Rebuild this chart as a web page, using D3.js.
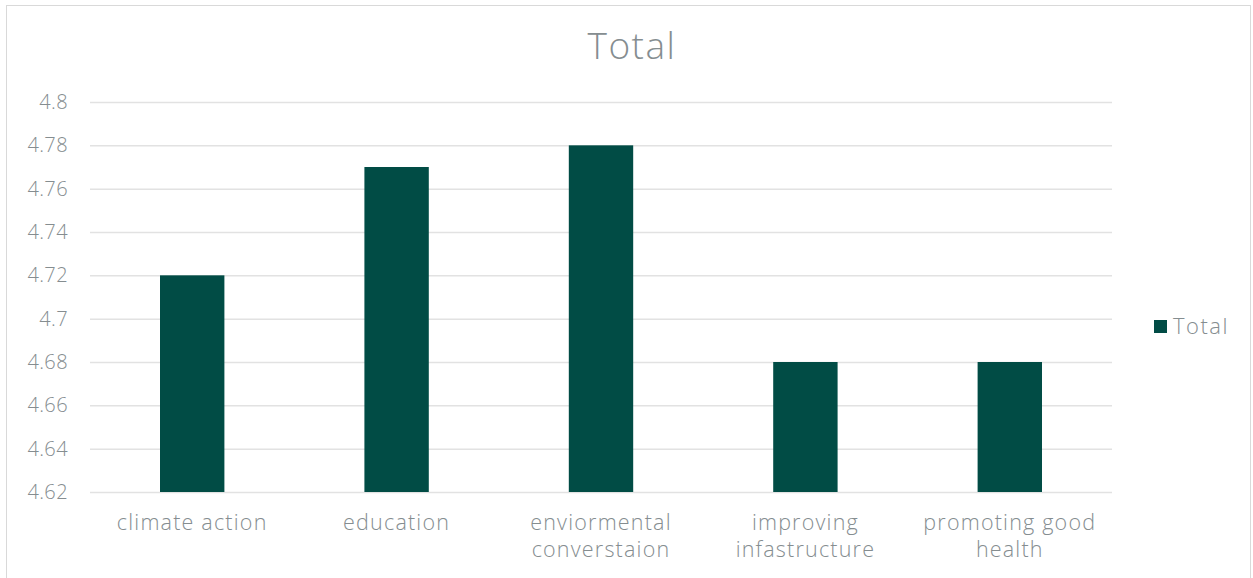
<!DOCTYPE html>
<html>
<head>
<meta charset="utf-8">
<script src="https://cdn.jsdelivr.net/npm/d3@7"></script>
<style>
  html, body { margin: 0; padding: 0; background: #fff; }
  svg { display: block; font-family: "Open Sans", Lato, sans-serif; font-weight: 300; }
</style>
</head>
<body>
<svg id="chart" width="1253" height="578"></svg>
<script>
// Average score per focus area
const categories = [
  ["climate action"],
  ["education"],
  ["enviormental", "converstaion"],
  ["improving", "infastructure"],
  ["promoting good", "health"]
];
const totals = [4.72, 4.77, 4.78, 4.68, 4.68];
const yTicks = [4.62, 4.64, 4.66, 4.68, 4.7, 4.72, 4.74, 4.76, 4.78, 4.8];
const seriesName = "Total";

const textColor = "#858d90";
const gridColor = "#e2e2e2";
const barColor = "#014c45";

const svg = d3.select("#chart");

// chart frame
svg.append("rect")
  .attr("x", 6.5).attr("y", 5.5)
  .attr("width", 1244).attr("height", 580)
  .attr("fill", "none").attr("stroke", "#d9d9d9");

const plot = { left: 90, right: 1112, top: 102, bottom: 492 };

const x = d3.scaleBand()
  .domain(d3.range(categories.length))
  .range([plot.left, plot.right])
  .paddingInner(0.685).paddingOuter(0.3425);

const y = d3.scaleLinear()
  .domain([4.62, 4.8])
  .range([plot.bottom, plot.top]);

// horizontal gridlines with value labels
const yAxis = d3.axisLeft(y)
  .tickValues(yTicks)
  .tickSize(-(plot.right - plot.left))
  .tickPadding(22)
  .tickFormat(d => String(+d.toFixed(2)));

const gy = svg.append("g")
  .attr("transform", `translate(${plot.left},0)`)
  .call(yAxis);
gy.select(".domain").remove();
gy.selectAll(".tick line").attr("stroke", gridColor).attr("stroke-width", 1.5);
gy.selectAll(".tick text")
  .attr("fill", textColor)
  .attr("font-size", 20)
  .attr("letter-spacing", 0.4)
  .attr("font-family", "\"Open Sans\", Lato, sans-serif")
  .attr("font-weight", 300);

// bars
svg.append("g")
  .selectAll("rect")
  .data(totals)
  .join("rect")
  .attr("x", (d, i) => x(i))
  .attr("width", x.bandwidth())
  .attr("y", d => y(d))
  .attr("height", d => y(4.62) - y(d))
  .attr("fill", barColor);

// category labels
const labels = svg.append("g")
  .selectAll("text")
  .data(categories)
  .join("text")
  .attr("x", (d, i) => x(i) + x.bandwidth() / 2)
  .attr("y", 530)
  .attr("text-anchor", "middle")
  .attr("fill", textColor)
  .attr("font-size", 21.5)
  .attr("letter-spacing", 1.2);
labels.selectAll("tspan")
  .data(d => d)
  .join("tspan")
  .attr("x", function () { return d3.select(this.parentNode).attr("x"); })
  .attr("dy", (d, i) => i === 0 ? 0 : 27)
  .text(d => d);

// title
svg.append("text")
  .attr("x", 632).attr("y", 59)
  .attr("text-anchor", "middle")
  .attr("fill", textColor)
  .attr("font-size", 37)
  .attr("letter-spacing", 1.5)
  .text(seriesName);

// legend
const legend = svg.append("g").attr("transform", "translate(1154,320)");
legend.append("rect").attr("width", 13).attr("height", 13).attr("fill", barColor);
legend.append("text")
  .attr("x", 19).attr("y", 14)
  .attr("fill", textColor)
  .attr("font-size", 22)
  .attr("letter-spacing", 1.5)
  .text(seriesName);
</script>
</body>
</html>
